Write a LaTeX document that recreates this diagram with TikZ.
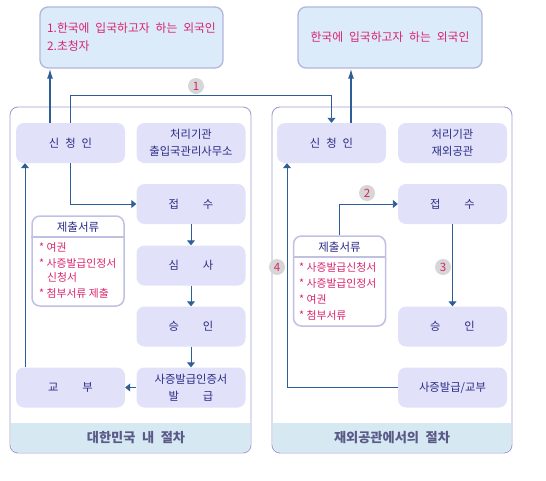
\documentclass[tikz,border=0pt]{standalone}
\usepackage{fontspec}
\setmainfont{Noto Sans CJK KR}
\usetikzlibrary{arrows.meta}
\definecolor{boxfill}{HTML}{E1E1FA}
\definecolor{navy}{HTML}{2B2B85}
\definecolor{pink}{HTML}{D8246E}
\definecolor{flow}{HTML}{2F5D97}
\definecolor{frame}{HTML}{A0A0D0}
\definecolor{topfill}{HTML}{DBEBF9}
\definecolor{topframe}{HTML}{B4B4DC}
\definecolor{band}{HTML}{D6E8F2}
\definecolor{bandtext}{HTML}{5A5A88}
\definecolor{numfill}{HTML}{D6D6D6}
\definecolor{docframe}{HTML}{C0C0E2}
\newcommand\widesp{\spaceskip=0.5em\relax}
\begin{document}
\begin{tikzpicture}[x=1pt,y=-1pt,
  stage/.style={rectangle, rounded corners=8pt, fill=boxfill, minimum width=109pt, minimum height=40pt, inner sep=0pt, text=navy, font=\fontsize{11.3}{16.5}\selectfont, align=center},
  panel/.style={rectangle, rounded corners=8pt, draw=frame, line width=0.9pt, minimum width=241pt, minimum height=346pt, inner sep=0pt},
  target/.style={rectangle, rounded corners=8pt, draw=topframe, line width=1.3pt, fill=topfill, minimum width=183pt, minimum height=61pt, inner sep=0pt, text=pink, font=\fontsize{11.8}{18}\selectfont\widesp, align=left},
  docbox/.style={rectangle, rounded corners=8pt, draw=docframe, line width=1.5pt, fill=white, minimum width=92pt, inner sep=0pt},
  dochead/.style={inner sep=0pt, text=navy, font=\fontsize{11.5}{14}\selectfont},
  docitem/.style={inner sep=0pt, anchor=west, text=pink, font=\fontsize{10.8}{14}\selectfont},
  bandlabel/.style={inner sep=0pt, text=bandtext, font=\fontsize{13.2}{15}\selectfont\bfseries\widesp},
  stepnum/.style={circle, fill=numfill, minimum size=16pt, inner sep=0pt, text=pink, font=\fontsize{11.5}{13}\selectfont},
  flowline/.style={draw=flow, line width=0.9pt, -{Triangle[length=5pt,width=8pt]}},
  uparrow/.style={draw=flow, line width=1.4pt, -{Latex[length=10pt,width=6pt]}}]
\useasboundingbox (0,0) rectangle (546,480);
\fill[band] (11,423) -- (250,423) [rounded corners=7pt]-- (250,452) -- (11,452) [sharp corners]-- cycle;
\fill[band] (273,423) -- (511,423) [rounded corners=7pt]-- (511,452) -- (273,452) [sharp corners]-- cycle;
\node[panel] (panelL) at (130.5,280){};
\node[panel, minimum width=240pt] (panelR) at (392,280){};
\node[bandlabel] (bandL) at (136,437.5){대한민국 내 절차};
\node[bandlabel] (bandR) at (392,437.5){재외공관에서의 절차};
\node[target] (topL) at (131.5,37.5){1.한국에 입국하고자 하는 외국인\\2.초청자};
\node[target, minimum width=184pt] (topR) at (390,37.5){한국에 입국하고자 하는 외국인};
\node[stage] (sinL) at (70.5,143){신\hspace{6pt}청\hspace{6pt}인};
\node[stage] (procL) at (191,143){처리기관\\출입국관리사무소};
\node[stage] (jubL) at (191,204){접\hspace{24pt}수};
\node[stage] (simL) at (191,265.5){심\hspace{24pt}사};
\node[stage] (sngL) at (191,326.5){승\hspace{24pt}인};
\node[stage] (balL) at (191,387.5){사증발급인증서\\발\hspace{24pt}급};
\node[stage] (gyoL) at (70.5,387.5){교\hspace{24pt}부};
\node[stage] (sinR) at (331.5,143){신\hspace{6pt}청\hspace{6pt}인};
\node[stage] (procR) at (452.5,143){처리기관\\재외공관};
\node[stage] (jubR) at (452.5,204){접\hspace{24pt}수};
\node[stage] (sngR) at (452.5,326.5){승\hspace{24pt}인};
\node[stage] (balR) at (452.5,387.5){사증발급/교부};
\node[docbox, minimum height=90pt] (docL) at (78,261){};
\node[dochead] (docLhead) at (78,227){제출서류};
\draw[docframe, line width=1.5pt] (docL.west |- 0,237) -- (docL.east |- 0,237);
\node[docitem] (docL1) at (39,247){* 여권};
\node[docitem] (docL2) at (39,263){* 사증발급인정서};
\node[docitem] (docL3) at (47,277){신청서};
\node[docitem] (docL4) at (39,293){* 첨부서류 제출};
\node[docbox, minimum height=90pt] (docR) at (339.5,281){};
\node[dochead] (docRhead) at (339.5,247){제출서류};
\draw[docframe, line width=1.5pt] (docR.west |- 0,257) -- (docR.east |- 0,257);
\node[docitem] (docR1) at (299,267){* 사증발급신청서};
\node[docitem] (docR2) at (299,283){* 사증발급인정서};
\node[docitem] (docR3) at (299,299){* 여권};
\node[docitem] (docR4) at (299,315){* 첨부서류};
\node[stepnum] (num1) at (196,86){1};
\node[stepnum] (num2) at (367,193){2};
\node[stepnum] (num3) at (443,267){3};
\node[stepnum] (num4) at (277,267){4};
\draw[uparrow] ([xshift=-20.5pt]sinL.north) -- ([xshift=-20.5pt]sinL.north |- topL.south);
\draw[uparrow] ([xshift=19.5pt]sinR.north) -- ([xshift=19.5pt]sinR.north |- topR.south);
\draw[flowline] (sinL.north) -- ++(0,-27) -| (sinR.north);
\draw[flowline] (sinL.south) |- (jubL.west);
\draw[flowline] (jubL) -- (simL);
\draw[flowline] (simL) -- (sngL);
\draw[flowline] (sngL) -- (balL);
\draw[flowline] (balL) -- (gyoL);
\draw[flowline] ([xshift=-45.5pt]gyoL.north) -- ([xshift=-45.5pt]sinL.south);
\draw[flowline] (docR.north) |- (jubR.west);
\draw[flowline] (jubR) -- (sngR);
\draw[flowline] (balR.west) -| ([xshift=-44.5pt]sinR.south);
\end{tikzpicture}
\end{document}
